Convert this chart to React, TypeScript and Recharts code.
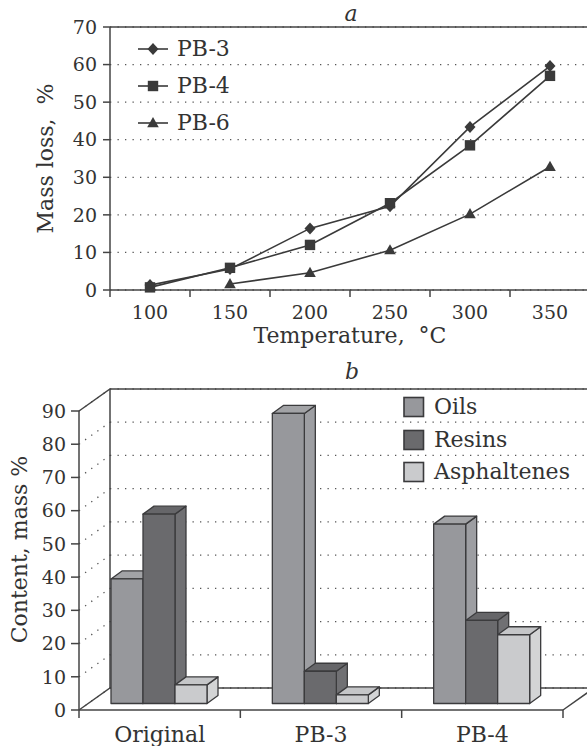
import React from 'react';
import {
  LineChart,
  Line,
  XAxis,
  YAxis,
  CartesianGrid,
  Legend,
  ReferenceLine,
  BarChart,
  Bar,
  ReferenceArea,
} from 'recharts';

const FONT = '"DejaVu Serif", serif';
const INK = '#333333';
const AXIS = '#444444';
const MARK = '#3a3a3a';

// ---------- Panel a : mass loss vs temperature ----------
const temperatures = ['100', '150', '200', '250', '300', '350'];
const pb3Loss = [1.3, 5.6, 16.4, 22.3, 43.4, 59.6];
const pb4Loss = [0.7, 5.9, 12.0, 23.1, 38.5, 57.0];
const pb6Loss = [null, 1.6, 4.6, 10.6, 20.2, 32.8];
const massLossTicks = [0, 10, 20, 30, 40, 50, 60, 70];

// ---------- Panel b : group composition ----------
const samples = ['Original', 'PB-3', 'PB-4'];
const oils = [37.5, 87.3, 54.0];
const resins = [57.0, 9.7, 25.0];
const asphaltenes = [5.6, 2.6, 20.7];
const contentTicks = [0, 10, 20, 30, 40, 50, 60, 70, 80, 90];

const lossData = temperatures.map((t, i) => ({
  temp: t,
  pb3: pb3Loss[i],
  pb4: pb4Loss[i],
  pb6: pb6Loss[i],
}));

const contentData = samples.map((s, i) => ({
  sample: s,
  oils: oils[i],
  resins: resins[i],
  asph: asphaltenes[i],
}));

type MarkerKind = 'diamond' | 'square' | 'triangle';

const lossSeries: { key: string; name: string; marker: MarkerKind }[] = [
  { key: 'pb3', name: 'PB-3', marker: 'diamond' },
  { key: 'pb4', name: 'PB-4', marker: 'square' },
  { key: 'pb6', name: 'PB-6', marker: 'triangle' },
];

const OIL = { front: '#97989c', side: '#9d9ea2', top: '#a2a3a6' };
const RES = { front: '#6a6a6d', side: '#707073', top: '#666669' };
const ASP = { front: '#cacbcd', side: '#d3d4d5', top: '#c5c6c8' };

const contentSeries = [
  { key: 'oils', name: 'Oils', c: OIL },
  { key: 'resins', name: 'Resins', c: RES },
  { key: 'asph', name: 'Asphaltenes', c: ASP },
];

const Marker = ({ kind, cx, cy }: { kind: MarkerKind; cx: number; cy: number }) => {
  if (kind === 'diamond')
    return (
      <polygon
        points={`${cx},${cy - 6} ${cx + 5.5},${cy} ${cx},${cy + 6} ${cx - 5.5},${cy}`}
        fill={MARK}
      />
    );
  if (kind === 'square')
    return <rect x={cx - 5.2} y={cy - 5.2} width={10.4} height={10.4} fill={MARK} />;
  return (
    <polygon
      points={`${cx},${cy - 6} ${cx + 5.8},${cy + 4.2} ${cx - 5.8},${cy + 4.2}`}
      fill={MARK}
    />
  );
};

const dotRenderer = (kind: MarkerKind) => (props: any) => {
  const { cx, cy, index, value } = props;
  if (cx == null || cy == null || value == null || Number.isNaN(cy)) return <g key={`d-${kind}-${index}`} />;
  return (
    <g key={`d-${kind}-${index}`}>
      <Marker kind={kind} cx={cx} cy={cy} />
    </g>
  );
};

const makeBandTick =
  (opts: { tickLen: number; baseline: number; fontSize: number; fallbackHalf: number; lastValue: string }) =>
  (props: any) => {
    const { x, y, payload } = props;
    const half =
      typeof payload?.offset === 'number' && payload.offset > 0 ? payload.offset : opts.fallbackHalf;
    const isLast = payload.value === opts.lastValue;
    return (
      <g>
        <line x1={x - half} y1={y} x2={x - half} y2={y + opts.tickLen} stroke={AXIS} strokeWidth={1.5} />
        {isLast && (
          <line x1={x + half} y1={y} x2={x + half} y2={y + opts.tickLen} stroke={AXIS} strokeWidth={1.5} />
        )}
        <text
          x={x}
          y={y + opts.baseline}
          textAnchor="middle"
          fontSize={opts.fontSize}
          fontFamily={FONT}
          fill={INK}
        >
          {payload.value}
        </text>
      </g>
    );
  };

const LossLegend = () => (
  <div style={{ fontFamily: FONT, fontSize: 22, color: INK }}>
    {lossSeries.map((s) => (
      <div key={s.key} style={{ display: 'flex', alignItems: 'center', height: 37 }}>
        <svg width={34} height={20} style={{ display: 'block' }}>
          <line x1={2} y1={10} x2={32} y2={10} stroke={MARK} strokeWidth={1.6} />
          <Marker kind={s.marker} cx={17} cy={10} />
        </svg>
        <span style={{ marginLeft: 7, lineHeight: '22px' }}>{s.name}</span>
      </div>
    ))}
  </div>
);

const ContentLegend = () => (
  <div style={{ fontFamily: FONT, fontSize: 22, color: INK }}>
    {contentSeries.map((s) => (
      <div key={s.key} style={{ display: 'flex', alignItems: 'center', height: 32.5 }}>
        <svg width={22} height={22} style={{ display: 'block' }}>
          <rect x={1} y={1.5} width={19.5} height={19} fill={s.c.front} stroke="#3a3a3c" strokeWidth={1.6} />
        </svg>
        <span style={{ marginLeft: 9, lineHeight: '22px' }}>{s.name}</span>
      </div>
    ))}
  </div>
);

// 3-D depth offsets (walls and bars)
const WALL_DX = 31;
const WALL_DY = -22;
const BAR_DX = 11;
const BAR_DY = -8;
const BAR_LIFT = -6.5;

const make3DBar = (c: { front: string; side: string; top: string }) => (props: any) => {
  const { x, y, width, height } = props;
  if (x == null || y == null || !width || height == null) return <g />;
  const x0 = x;
  const x1 = x + width;
  const y0 = y + BAR_LIFT;
  const y1 = y + height + BAR_LIFT;
  const st = { stroke: '#3b3b3d', strokeWidth: 1.3, strokeLinejoin: 'round' as const };
  return (
    <g>
      <polygon
        points={`${x1},${y0} ${x1 + BAR_DX},${y0 + BAR_DY} ${x1 + BAR_DX},${y1 + BAR_DY} ${x1},${y1}`}
        fill={c.side}
        {...st}
      />
      <polygon
        points={`${x0},${y0} ${x0 + BAR_DX},${y0 + BAR_DY} ${x1 + BAR_DX},${y0 + BAR_DY} ${x1},${y0}`}
        fill={c.top}
        {...st}
      />
      <rect x={x0} y={y0} width={width} height={y1 - y0} fill={c.front} {...st} />
    </g>
  );
};

const Frame3D = (props: any) => {
  const { x, y, width, height } = props;
  if (x == null) return <g />;
  const b = y + height;
  const s = { stroke: AXIS, strokeWidth: 1.5, fill: 'none' };
  return (
    <g>
      <polyline points={`${x},${y} ${x + WALL_DX},${y + WALL_DY} ${x + width + WALL_DX + 10},${y + WALL_DY}`} {...s} />
      <line x1={x + WALL_DX} y1={y + WALL_DY} x2={x + WALL_DX} y2={b + WALL_DY} {...s} />
      <polyline
        points={`${x},${b} ${x + WALL_DX},${b + WALL_DY} ${x + width + WALL_DX},${b + WALL_DY} ${x + width},${b}`}
        {...s}
      />
    </g>
  );
};

const DOT = { stroke: '#555', strokeWidth: 1.3, strokeDasharray: '1.3 6.2' };

const wallGridLine = (props: any) => {
  const { x1, y1, x2 } = props;
  return (
    <g>
      <line x1={x1} y1={y1} x2={x1 + WALL_DX} y2={y1 + WALL_DY} {...DOT} />
      <line x1={x1 + WALL_DX} y1={y1 + WALL_DY} x2={x2 + WALL_DX} y2={y1 + WALL_DY} {...DOT} />
    </g>
  );
};

const rotatedTitle = (text: string, x: number, dyCenter: number) => (props: any) => {
  const vb = props.viewBox || {};
  const cy = (vb.y ?? 0) + (vb.height ?? 0) / 2 + dyCenter;
  return (
    <text
      x={x}
      y={cy}
      transform={`rotate(-90, ${x}, ${cy})`}
      textAnchor="middle"
      dominantBaseline="central"
      fontSize={22}
      fontFamily={FONT}
      fill={INK}
      style={{ whiteSpace: 'pre' }}
    >
      {text}
    </text>
  );
};

const xTitle = (text: string, dy: number) => (props: any) => {
  const vb = props.viewBox || {};
  const cx = (vb.x ?? 0) + (vb.width ?? 0) / 2;
  return (
    <text x={cx} y={(vb.y ?? 0) + dy} textAnchor="middle" fontSize={22} fontFamily={FONT} fill={INK} style={{ whiteSpace: 'pre' }}>
      {text}
    </text>
  );
};

const tickStyle = { fontSize: 19, fontFamily: FONT, fill: INK };

export default function App() {
  return (
    <div
      style={{
        position: 'absolute',
        left: 0,
        top: 0,
        width: 587,
        height: 746,
        overflow: 'hidden',
        background: '#fff',
        fontFamily: FONT,
      }}
    >
      <div
        style={{
          position: 'absolute',
          left: 341,
          top: 1,
          width: 20,
          textAlign: 'center',
          fontStyle: 'italic',
          fontSize: 22,
          color: INK,
        }}
      >
        a
      </div>

      <div style={{ position: 'absolute', left: 0, top: 0 }}>
        <LineChart width={600} height={350} data={lossData} margin={{ top: 27, right: 10, bottom: 0, left: 0 }}>
          <CartesianGrid vertical={false} horizontal {...DOT} />
          <ReferenceLine y={70} stroke={AXIS} strokeWidth={1.5} />
          <XAxis
            dataKey="temp"
            scale="band"
            height={60}
            tickLine={false}
            tickSize={0}
            tickMargin={0}
            axisLine={{ stroke: AXIS, strokeWidth: 1.5 }}
            interval={0}
            tick={makeBandTick({ tickLen: 7, baseline: 29, fontSize: 19, fallbackHalf: 40, lastValue: '350' })}
            label={xTitle('Temperature,\u00A0 °C', 53)}
          />
          <YAxis
            width={110}
            domain={[0, 70]}
            ticks={massLossTicks}
            interval={0}
            tickSize={7}
            tickMargin={6}
            axisLine={{ stroke: AXIS, strokeWidth: 1.5 }}
            tickLine={{ stroke: AXIS, strokeWidth: 1.5 }}
            tick={tickStyle}
            label={rotatedTitle('Mass loss,\u00A0 %', 45, 0)}
          />
          <Legend
            layout="vertical"
            align="center"
            verticalAlign="middle"
            content={() => <LossLegend />}
            wrapperStyle={{ left: 136, top: 30, width: 'auto', height: 'auto' }}
          />
          {lossSeries.map((s) => (
            <Line
              key={s.key}
              dataKey={s.key}
              name={s.name}
              stroke={MARK}
              strokeWidth={1.6}
              dot={dotRenderer(s.marker)}
              activeDot={false}
              isAnimationActive={false}
            />
          ))}
        </LineChart>
      </div>

      <div
        style={{
          position: 'absolute',
          left: 342,
          top: 359,
          width: 20,
          textAlign: 'center',
          fontStyle: 'italic',
          fontSize: 22,
          color: INK,
        }}
      >
        b
      </div>

      <div style={{ position: 'absolute', left: 0, top: 350 }}>
        <BarChart
          width={587}
          height={396}
          data={contentData}
          margin={{ top: 61, right: 24, bottom: 0, left: 0 }}
          barCategoryGap={32}
          barGap={0}
        >
          <CartesianGrid vertical={false} horizontal={wallGridLine} />
          <ReferenceArea y1={0} y2={90} shape={Frame3D} ifOverflow="visible" />
          <XAxis
            dataKey="sample"
            height={36}
            tickLine={false}
            tickSize={0}
            tickMargin={0}
            interval={0}
            axisLine={{ stroke: AXIS, strokeWidth: 1.5 }}
            tick={makeBandTick({ tickLen: 8, baseline: 32, fontSize: 22, fallbackHalf: 80.7, lastValue: 'PB-4' })}
          />
          <YAxis
            width={79}
            domain={[0, 90]}
            ticks={contentTicks}
            interval={0}
            tickSize={8}
            tickMargin={5}
            axisLine={{ stroke: AXIS, strokeWidth: 1.5 }}
            tickLine={{ stroke: AXIS, strokeWidth: 1.5 }}
            tick={tickStyle}
            label={rotatedTitle('Content, mass %', 19, -11)}
          />
          <Legend
            layout="vertical"
            align="center"
            verticalAlign="middle"
            content={() => <ContentLegend />}
            wrapperStyle={{ left: 403, top: 41, width: 'auto', height: 'auto' }}
          />
          {contentSeries.map((s) => (
            <Bar
              key={s.key}
              dataKey={s.key}
              name={s.name}
              fill={s.c.front}
              shape={make3DBar(s.c)}
              isAnimationActive={false}
            />
          ))}
        </BarChart>
      </div>
    </div>
  );
}
